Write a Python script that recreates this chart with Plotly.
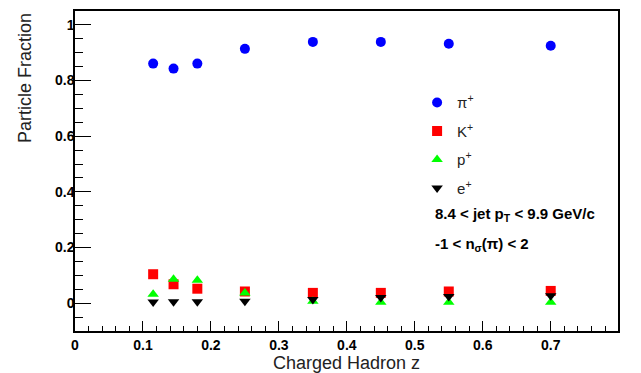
import plotly.graph_objects as go

z = [0.115, 0.145, 0.18, 0.25, 0.35, 0.45, 0.55, 0.70]
pi_frac = [0.861, 0.843, 0.861, 0.914, 0.939, 0.939, 0.932, 0.925]
k_frac = [0.104, 0.068, 0.052, 0.042, 0.037, 0.037, 0.042, 0.044]
p_frac = [0.032, 0.086, 0.082, 0.037, 0.007, 0.003, 0.003, 0.003]
e_frac = [0.004, 0.005, 0.005, 0.007, 0.013, 0.020, 0.024, 0.027]

x_ticks = [0, 0.1, 0.2, 0.3, 0.4, 0.5, 0.6, 0.7]
x_labels = ["0", "0.1", "0.2", "0.3", "0.4", "0.5", "0.6", "0.7"]
y_ticks = [0, 0.2, 0.4, 0.6, 0.8, 1.0]
y_labels = ["0", "0.2", "0.4", "0.6", "0.8", "1"]

series = [
    ("π<sup>+</sup>", pi_frac, "circle", "#0000ff"),
    ("K<sup>+</sup>", k_frac, "square", "#ff0000"),
    ("p<sup>+</sup>", p_frac, "triangle-up", "#00ff00"),
    ("e<sup>+</sup>", e_frac, "triangle-down", "#000000"),
]

FONT = "Liberation Sans, Arial, Helvetica, sans-serif"

fig = go.Figure()
for i, (name, vals, sym, col) in enumerate(series):
    fig.add_trace(go.Scatter(
        x=z, y=vals, mode="markers", name=name, legendgroup=str(i),
        marker=dict(symbol=sym, color=col, size=10, line=dict(width=0)),
    ))

axis_common = dict(showgrid=False, zeroline=False, showline=True, linecolor="black",
                   linewidth=1.5, mirror=True, ticks="inside", tickcolor="black",
                   tickfont=dict(family=FONT, size=14, color="black"))

fig.update_layout(
    width=641, height=373,
    margin=dict(l=75, r=23, t=9, b=42),
    paper_bgcolor="white", plot_bgcolor="white",
    font=dict(family=FONT),
    xaxis=dict(range=[0, 0.799], ticklen=10, tickwidth=1.2,
               minor=dict(ticks="inside", ticklen=5, tick0=0, dtick=0.02, tickcolor="black", tickwidth=1),
               tickvals=x_ticks, ticktext=["<b>%s</b>" % t for t in x_labels],
               **axis_common),
    yaxis=dict(range=[-0.1, 1.05], ticklen=16, tickwidth=1.2, ticklabelstandoff=-4,
               minor=dict(ticks="inside", ticklen=8, tick0=0, dtick=0.05, tickcolor="black", tickwidth=1),
               tickvals=y_ticks, ticktext=["<b>%s</b>" % t for t in y_labels],
               **axis_common),
    showlegend=True,
    legend=dict(x=0.63, y=0.765, xanchor="left", yanchor="top",
                bgcolor="rgba(0,0,0,0)", tracegroupgap=6,
                font=dict(family=FONT, size=15, color="#222222")),
)

fig.add_annotation(text="Charged Hadron z", xref="paper", yref="paper", x=0.5, y=0,
                   xanchor="center", yanchor="top", yshift=-20, showarrow=False,
                   font=dict(family=FONT, size=18, color="#222222"))
fig.add_annotation(text="Particle Fraction", xref="paper", yref="paper", x=0, y=1.0,
                   xanchor="right", yanchor="top", xshift=-38, textangle=-90, showarrow=False,
                   font=dict(family=FONT, size=18, color="#222222"))
fig.add_annotation(text="<b>8.4 < jet p<sub>T</sub> < 9.9 GeV/c</b>", xref="paper", yref="paper",
                   x=0.66, y=0.365, xanchor="left", yanchor="middle", showarrow=False,
                   font=dict(family=FONT, size=15, color="black"))
fig.add_annotation(text="<b>-1 < n<sub>σ</sub>(π) < 2</b>", xref="paper", yref="paper",
                   x=0.66, y=0.27, xanchor="left", yanchor="middle", showarrow=False,
                   font=dict(family=FONT, size=15, color="black"))

fig.write_html("out.html")
